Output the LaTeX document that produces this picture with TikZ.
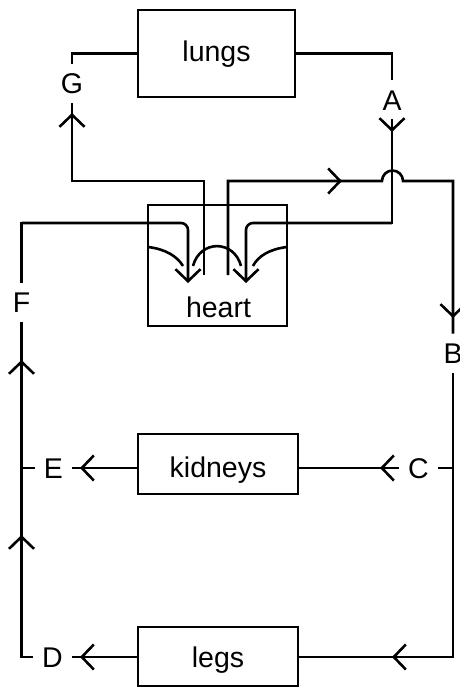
\documentclass[tikz,border=0pt]{standalone}
\usepackage{fontspec}
\setmainfont{Liberation Sans}
\usetikzlibrary{arrows.meta,calc}
\begin{document}
\begin{tikzpicture}[x=1pt,y=-1pt,line width=2.6pt,
  txt/.style={font=\fontsize{28.5}{30}\selectfont},
  box/.style={draw, txt, inner sep=0pt, text depth=0pt},
  lbl/.style={txt, inner sep=8pt, text height=20.4pt, text depth=0pt},
  endbarb/.style={-{Straight Barb[length=12pt,width=25pt]}}]
\useasboundingbox (0,0) rectangle (459,687);
% boxes
\node[box, minimum width=157pt, minimum height=87pt, text height=17pt] (lungs) at (216.5,53.5) {lungs};
\node[box, minimum width=139pt, minimum height=121pt] (heart) at (217.5,265.5) {};
\node[lbl] (heartlbl) at (218.5,307) {heart};
\node[box, minimum width=160pt, minimum height=60pt, text height=26pt] (kidneys) at (218,464) {kidneys};
\node[box, minimum width=160pt, minimum height=59pt, text height=21pt] (legs) at (218,656.5) {legs};
% letter labels
\node[lbl] (A) at (392,100) {A};
\node[lbl] (B) at (453,353) {B};
\node[lbl] (C) at (418.5,468) {C};
\node[lbl] (D) at (52.5,657) {D};
\node[lbl] (E) at (53.5,468) {E};
\node[lbl] (F) at (21.5,302.5) {F};
\node[lbl] (G) at (72,83.5) {G};
% corner coordinates
\coordinate (gC) at (72,181);
\coordinate (i1t) at (204,181);
\coordinate (i1b) at (204,275);
\coordinate (i2t) at (228,181);
\coordinate (i2b) at (228,275);
\coordinate (hop1) at (382,181);
\coordinate (bC) at (453,181);
\coordinate (aC) at (392,223);
\coordinate (aH) at (246,223);
\coordinate (hR) at (246,283);
\coordinate (fC) at (21.5,223);
\coordinate (fH) at (188,223);
\coordinate (hL) at (188,283);
\coordinate (cR) at (453,468);
\coordinate (lR) at (453,657);
\coordinate (eL) at (21.5,468);
\coordinate (dL) at (21.5,657);
% connectors
\draw (lungs.west) -| (G.north);
\draw (lungs.east) -| (A.north);
\draw (A.south) -- (aC) -- ($(aC)+(-20,0)$);
\draw[rounded corners=7pt, endbarb] (aC) -- (aH) -- (hR);
\draw (F.north) -- (fC) -- ($(fC)+(20,0)$);
\draw[rounded corners=7pt, endbarb] (fC) -- (fH) -- (hL);
\draw (i1b) -- (i1t) -- (gC) -- (G.south);
\draw (i2b) -- (i2t) -- (hop1) arc[start angle=180, end angle=0, radius=10.5pt] -- (bC) -- (B.north);
\draw (B.south) -- (lR) -- (lR -| legs.east);
\draw (cR) -- (C.east);
\draw (C.west) -- (C.west -| kidneys.east);
\draw (E.east -| kidneys.west) -- (E.east);
\draw (E.west) -- (eL);
\draw (D.east -| legs.west) -- (D.east);
\draw (D.west) -- (dL) -- (F.south);
% mid-line arrowheads
\coordinate (tG) at (72,113);
\coordinate (tA) at (392,132);
\coordinate (tT) at (342,181);
\coordinate (tB) at (453,318);
\coordinate (tL) at (392,657);
\coordinate (tC) at (380,468);
\coordinate (tE) at (80,468);
\coordinate (tD) at (80,657);
\coordinate (tF1) at (21.5,360);
\coordinate (tF2) at (21.5,535);
\draw[endbarb] ($(tG)+(0,15)$) -- (tG);
\draw[endbarb] ($(tA)+(0,-13)$) -- (tA);
\draw[endbarb] ($(tT)+(-15,0)$) -- (tT);
\draw[endbarb] ($(tB)+(0,-15)$) -- (tB);
\draw[endbarb] ($(tL)+(15,0)$) -- (tL);
\draw[endbarb] ($(tC)+(15,0)$) -- (tC);
\draw[endbarb] ($(tE)+(15,0)$) -- (tE);
\draw[endbarb] ($(tD)+(15,0)$) -- (tD);
\draw[endbarb] ($(tF1)+(0,15)$) -- (tF1);
\draw[endbarb] ($(tF2)+(0,15)$) -- (tF2);
% heart valves
\draw (148,247) .. controls (165,249) and (177,256) .. (183,266);
\draw (193,266) .. controls (200,239.5) and (234,239.5) .. (241,266);
\draw (287,247) .. controls (270,249) and (258,256) .. (253,266);
\end{tikzpicture}
\end{document}
